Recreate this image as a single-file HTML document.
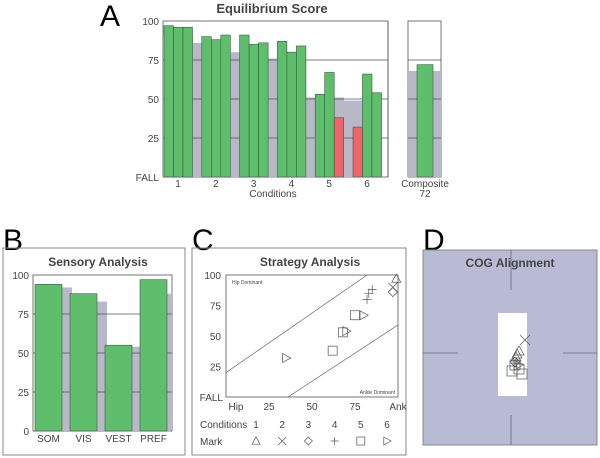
<!DOCTYPE html>
<html><head><meta charset="utf-8"><style>
body{margin:0;background:#fff;width:600px;height:458px;overflow:hidden}
svg{font-family:"Liberation Sans",sans-serif;display:block}
</style></head><body>
<svg id="fig" width="600" height="458" viewBox="0 0 600 458">
<g>
<text x="100" y="26" font-size="30">A</text>
<text x="272" y="13" font-size="13" font-weight="bold" fill="#444" text-anchor="middle">Equilibrium Score</text>
<g id="ga"></g>
</g>
<g>
<text x="3" y="250" font-size="30">B</text>
<rect x="3" y="248" width="182" height="207" fill="none" stroke="#888" stroke-width="1"/>
<text x="98" y="266" font-size="12" font-weight="bold" fill="#444" text-anchor="middle">Sensory Analysis</text>
<g id="gb"></g>
</g>
<g>
<text x="192" y="250" font-size="30">C</text>
<rect x="192" y="248" width="214" height="207" fill="none" stroke="#888" stroke-width="1"/>
<text x="310" y="266" font-size="12" font-weight="bold" fill="#444" text-anchor="middle">Strategy Analysis</text>
<g id="gc"></g>
</g>
<g>
<text x="423" y="250" font-size="30">D</text>
<rect x="423" y="250" width="174" height="195" fill="#b9bbd4" stroke="#888"/>
<text x="510" y="267" font-size="12" font-weight="bold" fill="#444" text-anchor="middle">COG Alignment</text>
<rect x="498" y="313" width="29" height="83" fill="#fff"/>
<g stroke="#667" stroke-width="0.8">
<line x1="511" y1="250" x2="511" y2="290"/><line x1="511" y1="415" x2="511" y2="445"/>
<line x1="423" y1="353" x2="458" y2="353"/><line x1="563" y1="353" x2="597" y2="353"/>
</g>
<g id="gd"></g>
</g>
</svg>
<script>
// Panel A data
const condLabels=["1","2","3","4","5","6"];
const trialScores=[[97,96,96],[90,88,91],[91,85,86],[87,80,84],[53,67,38],[32,66,54]];
const trialFall=[[0,0,0],[0,0,0],[0,0,0],[0,0,0],[0,0,1],[1,0,0]];
const normScores=[90,86,80,76,51,49];
const compositeScore=[72];
const compositeNorm=[68];
const tickVals=[25,50,75,100];
// Panel B data
const sensoryCats=["SOM","VIS","VEST","PREF"];
const sensoryVals=[94,88,55,97];
const sensoryNorms=[92,83,54,88];
// Panel C data
const stratX=[99,97,97,83,82,85,62,68,75,35,70,80];
const stratY=[97,90,86,85,80,88,38,53,67,32,54,67];
const stratCond=[1,2,3,4,4,4,5,5,5,6,6,6];
// Panel D data
const cogX=[14,8,6,5,4,5,7,1,8,11,4];
const cogY=[-13,-2,1,4,9,10,12,18,16,21,12];
const cogCond=[2,1,1,1,3,4,6,5,5,5,5];

const NS="http://www.w3.org/2000/svg";
function mk(p,t,a){const e=document.createElementNS(NS,t);for(const k in a)e.setAttribute(k,a[k]);p.appendChild(e);return e;}

// ---- Panel A
const ga=document.getElementById('ga');
const aY=v=>177-v*1.56;
const gx=i=>164+i*37.8;
mk(ga,'rect',{x:163,y:21,width:225,height:156,fill:'#fff',stroke:'#555','stroke-width':0.8});
normScores.forEach((v,i)=>{const r=mk(ga,'rect',{x:i==0?163:gx(i)-9,y:aY(v),width:i==0?gx(1)-9-163:37.8,height:177-aY(v),fill:'#b8b8c9'});

});
tickVals.forEach(t=>{if(t<100)mk(ga,'line',{x1:163,x2:388,y1:aY(t),y2:aY(t),stroke:'#555','stroke-width':0.8});
const l=mk(ga,'text',{x:159,y:aY(t)+4,'font-size':10,fill:'#444','text-anchor':'end'});l.textContent=t;

});
{const l=mk(ga,'text',{x:159,y:181,'font-size':10,fill:'#444','text-anchor':'end'});l.textContent='FALL';}
trialScores.forEach((g,i)=>{g.forEach((v,j)=>{const r=mk(ga,'rect',{x:gx(i)+j*9.5,y:aY(v),width:9.5,height:177-aY(v),fill:trialFall[i][j]?'#f0646e':'#5fbe6c',stroke:'#3a5a40','stroke-width':0.6});

});
const l=mk(ga,'text',{x:gx(i)+14,y:187,'font-size':10,fill:'#444','text-anchor':'middle'});l.textContent=condLabels[i];

});
mk(ga,'line',{x1:388,x2:388,y1:21,y2:177,stroke:'#555','stroke-width':0.8});
{const l=mk(ga,'text',{x:273,y:197,'font-size':10,fill:'#444','text-anchor':'middle'});l.textContent='Conditions';

}
mk(ga,'rect',{x:408,y:21,width:33,height:156,fill:'#fff',stroke:'#555','stroke-width':0.8});
mk(ga,'rect',{x:408,y:aY(compositeNorm[0]),width:33,height:177-aY(compositeNorm[0]),fill:'#b8b8c9'});
mk(ga,'line',{x1:408,x2:441,y1:aY(75),y2:aY(75),stroke:'#555','stroke-width':0.8});
[25,50].forEach(t=>mk(ga,'line',{x1:408,x2:441,y1:aY(t),y2:aY(t),stroke:'#555','stroke-width':0.8}));
{const r=mk(ga,'rect',{x:417,y:aY(compositeScore[0]),width:16,height:177-aY(compositeScore[0]),fill:'#5fbe6c',stroke:'#3a5a40','stroke-width':0.6});


let l=mk(ga,'text',{x:425,y:187,'font-size':10,fill:'#444','text-anchor':'middle'});l.textContent='Composite';
l=mk(ga,'text',{x:425,y:197,'font-size':10,fill:'#444','text-anchor':'middle'});l.textContent=compositeScore[0];}

// ---- Panel B
const gb=document.getElementById('gb');
const bY=v=>431-v*1.56;
mk(gb,'rect',{x:33,y:275,width:139,height:156,fill:'#fff',stroke:'#555','stroke-width':0.8});
sensoryCats.forEach((c,i)=>{const x=35+i*35;
const n=mk(gb,'rect',{x:x+6,y:bY(sensoryNorms[i]),width:i==3?25:31,height:431-bY(sensoryNorms[i]),fill:'#b8b8c9'});

});
[25,50,75].forEach(t=>mk(gb,'line',{x1:33,x2:172,y1:bY(t),y2:bY(t),stroke:'#555','stroke-width':0.8}));
sensoryCats.forEach((c,i)=>{const x=35+i*35;
const r=mk(gb,'rect',{x:x,y:bY(sensoryVals[i]),width:27,height:431-bY(sensoryVals[i]),fill:'#5fbe6c',stroke:'#3a5a40','stroke-width':0.6});


const l=mk(gb,'text',{x:x+13.5,y:442,'font-size':10,fill:'#444','text-anchor':'middle'});l.textContent=c;

});
[0,25,50,75,100].forEach(t=>{const l=mk(gb,'text',{x:29,y:bY(t)+4,'font-size':10,fill:'#444','text-anchor':'end'});l.textContent=t;

});

// ---- Panel C
const gc=document.getElementById('gc');
const cX=v=>226+v*1.72, cY=v=>397-v*1.22;
mk(gc,'rect',{x:226,y:275,width:172,height:122,fill:'#fff',stroke:'#555','stroke-width':0.8});
mk(gc,'line',{x1:cX(0),y1:cY(20),x2:cX(82),y2:cY(100),stroke:'#555','stroke-width':0.6});
mk(gc,'line',{x1:cX(36),y1:cY(0),x2:cX(100),y2:cY(59),stroke:'#555','stroke-width':0.6});
{let l=mk(gc,'text',{x:232,y:284,'font-size':5,fill:'#444'});l.textContent='Hip Dominant';
l=mk(gc,'text',{x:395,y:394,'font-size':5,fill:'#444','text-anchor':'end'});l.textContent='Ankle Dominant';}
[25,50,75,100].forEach(t=>{const l=mk(gc,'text',{x:221,y:cY(t)+4,'font-size':10,fill:'#444','text-anchor':'end'});l.textContent=t;});
{const l=mk(gc,'text',{x:223,y:401,'font-size':10,fill:'#444','text-anchor':'end'});l.textContent='FALL';}
[["Hip",0],["25",25],["50",50],["75",75],["Ank",100]].forEach(([s,v])=>{const l=mk(gc,'text',{x:cX(v)+(v==0?10:0),y:410,'font-size':10,fill:'#444','text-anchor':'middle'});l.textContent=s;});
function marker(p,c,x,y,s){const st={fill:'none',stroke:'#555','stroke-width':0.7};let e;
if(c==1)e=mk(p,'polygon',Object.assign({points:`${x},${y-s} ${x-s},${y+s*0.8} ${x+s},${y+s*0.8}`},st));
else if(c==2)e=mk(p,'path',Object.assign({d:`M${x-s} ${y-s}L${x+s} ${y+s}M${x-s} ${y+s}L${x+s} ${y-s}`},st));
else if(c==3)e=mk(p,'polygon',Object.assign({points:`${x},${y-s} ${x+s},${y} ${x},${y+s} ${x-s},${y}`},st));
else if(c==4)e=mk(p,'path',Object.assign({d:`M${x-s} ${y}L${x+s} ${y}M${x} ${y-s}L${x} ${y+s}`},st));
else if(c==5)e=mk(p,'rect',Object.assign({x:x-s,y:y-s,width:2*s,height:2*s},st));
else e=mk(p,'polygon',Object.assign({points:`${x-s*0.8},${y-s} ${x+s},${y} ${x-s*0.8},${y+s}`},st));
return e;}
stratX.forEach((v,i)=>{const e=marker(gc,stratCond[i],cX(v),cY(stratY[i]),4.5);

});
{let l=mk(gc,'text',{x:200,y:428,'font-size':10,fill:'#444'});l.textContent='Conditions';
l=mk(gc,'text',{x:200,y:445,'font-size':10,fill:'#444'});l.textContent='Mark';}
condLabels.forEach((c,i)=>{const x=256+i*26.2;const l=mk(gc,'text',{x:x,y:428,'font-size':10,fill:'#444','text-anchor':'middle'});l.textContent=c;
const e=marker(gc,i+1,x,441,4);

});

// ---- Panel D
const gd=document.getElementById('gd');
cogX.forEach((v,i)=>{const e=marker(gd,cogCond[i],511+v,353+cogY[i],5);

});
</script>
</body></html>
